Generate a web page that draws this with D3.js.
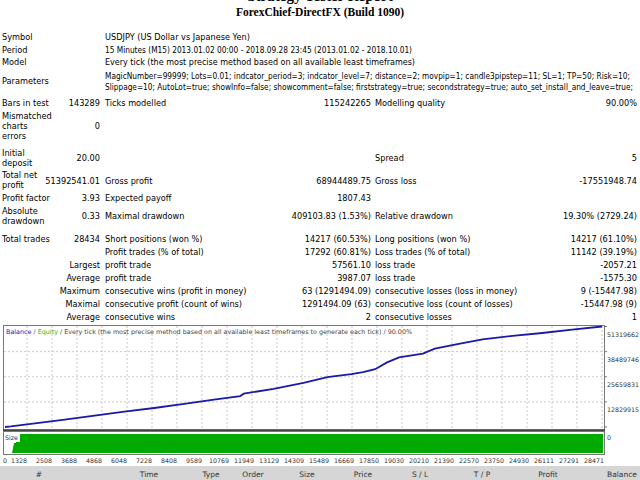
<!DOCTYPE html>
<html><head><meta charset="utf-8">
<script src="https://cdn.jsdelivr.net/npm/d3@7"></script>
<style>body{margin:0;background:#fff}svg{display:block}</style></head>
<body><svg id="c" width="640" height="480"></svg>
<script>
const tradeIdx=[0,284,1422,2843,4265,5687,7109,8530,9952,11200,11374,12795,14217,15354,16492,17060,17629,18198,18766,19904,20472,21610,22747,24169,25591,27012,28434];
const balanceM=[0,0.3,1.8,3.8,5.8,7.8,9.7,11.8,14,15.8,17,19.5,22.5,25.5,27,28,29.5,33,35.5,37.5,40,42.5,44.8,46.5,48,49.7,51.32];
const yTicks=[0,12829915,25659831,38489746,51319662];
const xTickLabels=[0,1328,2508,3688,4868,6048,7228,8408,9589,10769,11949,13129,14309,15489,16669,17850,19030,20210,21390,22570,23750,24930,26111,27291,28471];
const headerCols=["#","Time","Type","Order","Size","Price","S / L","T / P","Profit","Balance"];
const headerX=[39,149,211,253,307,363,420,482,548,622];

const svg=d3.select("#c");
const F="'DejaVu Sans',sans-serif", FS=8.2;
function t(x,y,s,anchor,opt={}){const e=svg.append("text").attr("x",x).attr("y",y).attr("font-family",opt.ff||F).attr("font-size",opt.fs||FS).attr("fill",opt.fill||"#000").attr("text-anchor",anchor||"start").text(s);if(opt.fw)e.attr("font-weight",opt.fw);if(opt.tl)e.attr("textLength",opt.tl).attr("lengthAdjust","spacingAndGlyphs");return e;}

t(320,1,"Strategy Tester Report","middle",{ff:"'Liberation Serif',serif",fs:15,fw:"bold"});
t(320,16,"ForexChief-DirectFX (Build 1090)","middle",{ff:"'Liberation Serif',serif",fs:11.5,fw:"bold"});

const L=2,V1=100,C2=105,V2=371,C3=375,V4=637;
t(L,40,"Symbol");t(C2,40,"USDJPY (US Dollar vs Japanese Yen)");
t(L,53,"Period");t(C2,53,"15 Minutes (M15) 2013.01.02 00:00 - 2018.09.28 23:45 (2013.01.02 - 2018.10.01)","start",{tl:307});
t(L,65,"Model");t(C2,65,"Every tick (the most precise method based on all available least timeframes)","start",{tl:310});
t(L,84,"Parameters");
t(C2,79,"MagicNumber=99999; Lots=0.01; indcator_period=3; indcator_level=7; distance=2; movpip=1; candle3pipstep=11; SL=1; TP=50; Risk=10;","start",{tl:525});
t(C2,90,"Slippage=10; AutoLot=true; showInfo=false; showcomment=false; firststrategy=true; secondstrategy=true; auto_set_install_and_leave=true;","start",{tl:528});
t(L,106,"Bars in test");t(V1,106,"143289","end");t(C2,106,"Ticks modelled");t(V2,106,"115242265","end");t(C3,106,"Modelling quality");t(V4,106,"90.00%","end");
t(L,119,"Mismatched");t(L,129,"charts");t(L,139,"errors");t(V1,129,"0","end");
t(L,156,"Initial");t(L,166,"deposit");t(V1,161,"20.00","end");t(C3,161,"Spread");t(V4,161,"5","end");
t(L,178,"Total net");t(L,188,"profit");t(V1,184,"51392541.01","end");t(C2,184,"Gross profit");t(V2,184,"68944489.75","end");t(C3,184,"Gross loss");t(V4,184,"-17551948.74","end");
t(L,201,"Profit factor");t(V1,201,"3.93","end");t(C2,201,"Expected payoff");t(V2,201,"1807.43","end");
t(L,214,"Absolute");t(L,224,"drawdown");t(V1,219,"0.33","end");t(C2,219,"Maximal drawdown");t(V2,219,"409103.83 (1.53%)","end");t(C3,219,"Relative drawdown");t(V4,219,"19.30% (2729.24)","end");
const rows=[[242,"Total trades","28434","Short positions (won %)","14217 (60.53%)","Long positions (won %)","14217 (61.10%)",true],
[255,"","","Profit trades (% of total)","17292 (60.81%)","Loss trades (% of total)","11142 (39.19%)"],
[268,"Largest","","profit trade","57561.10","loss trade","-2057.21"],
[281,"Average","","profit trade","3987.07","loss trade","-1575.30"],
[294,"Maximum","","consecutive wins (profit in money)","63 (1291494.09)","consecutive losses (loss in money)","9 (-15447.98)"],
[307,"Maximal","","consecutive profit (count of wins)","1291494.09 (63)","consecutive loss (count of losses)","-15447.98 (9)"],
[320,"Average","","consecutive wins","2","consecutive losses","1"]];
rows.forEach(r=>{if(r[7]){t(L,r[0],r[1]);t(V1,r[0],r[2],"end");}else if(r[1])t(V1,r[0],r[1],"end");
t(C2,r[0],r[3]);t(V2,r[0],r[4],"end");t(C3,r[0],r[5]);t(V4,r[0],r[6],"end");});

const cx0=3,cx1=604,cTop=325,cBot=430;
const pTop=326.5,pBot=428;
svg.append("rect").attr("x",cx0+0.5).attr("y",cTop+0.5).attr("width",cx1-cx0).attr("height",cBot-cTop).attr("fill","#fff").attr("stroke","#777");
const xs=d3.scaleLinear().domain([0,28434]).range([cx0+2,cx1-2]);
const ys=d3.scaleLinear().domain([0,51319662]).range([pBot-1,pTop]);
const xl=d3.scaleLinear().domain([2508,28471]).range([44,594]);
xTickLabels.slice(1).forEach(v=>svg.append("line").attr("x1",xl(v)+8).attr("x2",xl(v)+8).attr("y1",cTop+1).attr("y2",cBot-2).attr("stroke","#c8c8c8").attr("stroke-dasharray","2,2"));
yTicks.slice(1,4).forEach(v=>svg.append("line").attr("x1",cx0+1).attr("x2",cx1).attr("y1",ys(v)).attr("y2",ys(v)).attr("stroke","#c8c8c8").attr("stroke-dasharray","2,2"));
const lineData=tradeIdx.map((d,i)=>[d,balanceM[i]*1e6]);
svg.append("path").attr("d",d3.line().x(d=>xs(d[0])).y(d=>ys(d[1]))(lineData)).attr("fill","none").attr("stroke","#1a1aa8").attr("stroke-width",1.8);
svg.append("line").attr("x1",cx0).attr("x2",cx1+1).attr("y1",cBot).attr("y2",cBot).attr("stroke","#333").attr("stroke-width",1.5);
yTicks.forEach(v=>{svg.append("line").attr("x1",cx1).attr("x2",cx1+3).attr("y1",ys(v)).attr("y2",ys(v)).attr("stroke","#777");t(607,ys(v)+(v===0?13:10),String(v),"start",{fs:6.3,fill:"#333"});});
const lg=svg.append("text").attr("x",6).attr("y",334).attr("font-family",F).attr("font-size",6.4);
lg.append("tspan").attr("fill","#2020c0").text("Balance");
lg.append("tspan").attr("fill","#555").text(" / ");
lg.append("tspan").attr("fill","#22bb22").text("Equity");
lg.append("tspan").attr("fill","#444").text(" / Every tick (the most precise method based on all available least timeframes to generate each tick) / 90.00%");
svg.append("rect").attr("x",cx0+0.5).attr("y",431.5).attr("width",cx1-cx0).attr("height",23).attr("fill","#fff").attr("stroke","#777");
svg.append("path").attr("d",`M10,453 L12,453 L14,443 L16,443 L16,434 L${cx1-1},434 L${cx1-1},453 Z`).attr("fill","#00aa00");
svg.append("rect").attr("x",4).attr("y",433).attr("width",16).attr("height",9).attr("fill","#fff");
t(5,440,"Size","start",{fs:6.3,fill:"#333"});
xTickLabels.forEach((v,i)=>t(i===0?3:xl(v),463,String(v),i===0?"start":"middle",{fs:6.3,fill:"#333"}));
svg.append("rect").attr("x",0).attr("y",466).attr("width",640).attr("height",14).attr("fill","#d6d6d6");
headerCols.forEach((h,i)=>t(headerX[i],477,h,"middle",{fs:7.5,fill:"#333"}));
</script></body></html>
